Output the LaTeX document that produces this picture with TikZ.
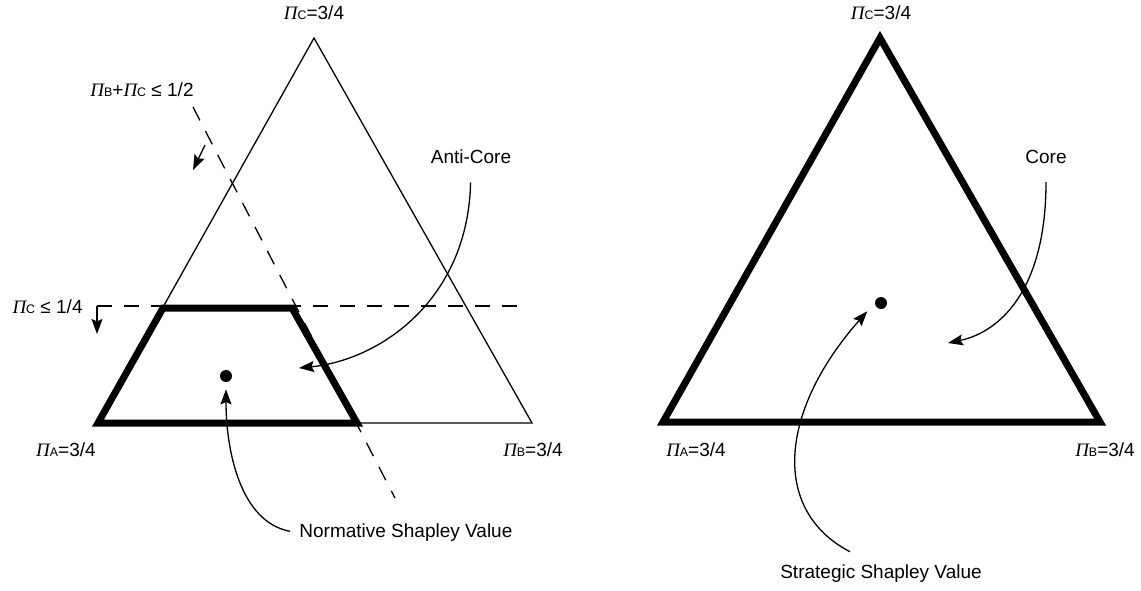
\documentclass[tikz,border=0pt]{standalone}
\usepackage{fontspec}
\setmainfont{Liberation Sans}
\newfontfamily\piserif{Liberation Serif}
\usetikzlibrary{arrows.meta}
\newcommand\PiX[1]{{\piserif\itshape Π}{\fontsize{6.2}{7}\selectfont #1}}
\begin{document}
\begin{tikzpicture}[x=0.5pt,y=-0.5pt,
  lbl/.style={font=\fontsize{9.5}{11}\selectfont, inner sep=0pt},
  thinline/.style={line width=0.65pt, line join=miter},
  thickline/.style={line width=3.5pt, line join=miter},
  dashline/.style={line width=0.65pt, dash pattern=on 7.5pt off 6pt},
  arr/.style={line width=0.65pt, -{Stealth[length=7.5pt,width=5.5pt,inset=1.2pt]}},
  dotnode/.style={circle, fill=black, inner sep=0pt, minimum size=6pt}]
\useasboundingbox (0,0) rectangle (1141,590);

% ---------- left diagram ----------
\coordinate (LA) at (98,423);
\coordinate (LB) at (532,423);
\coordinate (LC) at (314,38);
\coordinate (T1) at (163,308);
\coordinate (T2) at (292,308);
\coordinate (T3) at (357,423);
\draw[thinline] (LA) -- (LB) -- (LC) -- cycle;
\draw[thickline] (LA) -- (T1) -- (T2) -- (T3) -- cycle;

\node[lbl] (lc) at (314,13) {\PiX{C}=3/4};
\node[lbl] (la) at (66,450) {\PiX{A}=3/4};
\node[lbl] (lb) at (533,450) {\PiX{B}=3/4};

% constraint Pi_C <= 1/4
\coordinate (H0) at (97,306);
\coordinate (H1) at (525,306);
\coordinate (H2) at (97,334);
\draw[dashline] (H0) -- (H1);
\draw[arr] (H0) -- (H2);
\node[lbl, anchor=east] (hc) at (83,307) {\PiX{C} ≤ 1/4};

% constraint Pi_B + Pi_C <= 1/2
\coordinate (D0) at (193,107);
\coordinate (D1) at (395,498);
\draw[dashline] (D0) -- (D1);
\coordinate (DA0) at (205,145);
\coordinate (DA1) at (193,170);
\draw[arr] (DA0) -- (DA1);
\node[lbl, anchor=east] (dc) at (194,90) {\PiX{B}+\PiX{C} ≤ 1/2};

% anti-core
\node[lbl] (anti) at (471,157) {Anti-Core};
\coordinate (antitip) at (299,368);
\draw[arr, shorten <=9pt] (anti.south) .. controls (468,300) and (380,360) .. (antitip);

% normative Shapley value
\node[dotnode] (ndot) at (226,376) {};
\node[lbl, anchor=west] (nlbl) at (299,533) {Normative Shapley Value};
\draw[arr, shorten <=4.5pt, shorten >=3.5pt] (nlbl.west) .. controls (240,522) and (226,450) .. (ndot.south);

% ---------- right diagram ----------
\coordinate (RA) at (663,422);
\coordinate (RB) at (1100,422);
\coordinate (RC) at (880,38);
\draw[thickline] (RA) -- (RB) -- (RC) -- cycle;

\node[lbl] (rc) at (881,13) {\PiX{C}=3/4};
\node[lbl] (ra) at (696,450) {\PiX{A}=3/4};
\node[lbl] (rb) at (1105,450) {\PiX{B}=3/4};

\node[lbl] (core) at (1046,157) {Core};
\coordinate (coretip) at (948,343);
\draw[arr, shorten <=9pt] (core.south) .. controls (1046,290) and (1000,332) .. (coretip);

\node[dotnode] (sdot) at (881,303) {};
\node[lbl] (slbl) at (881,574) {Strategic Shapley Value};
\draw[arr, shorten >=5.5pt] ([shift={(-31,-13)}]slbl.north) .. controls (770,510) and (780,410) .. (sdot.west);
\end{tikzpicture}
\end{document}
